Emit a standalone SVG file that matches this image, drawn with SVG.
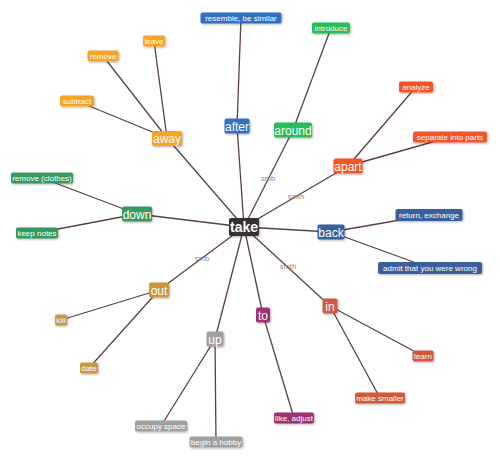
<svg xmlns="http://www.w3.org/2000/svg" width="500" height="460" viewBox="0 0 500 460">
<defs>
<filter id="sh" x="-20%" y="-30%" width="140%" height="170%">
<feDropShadow dx="1" dy="1" stdDeviation="0.8" flood-color="#000" flood-opacity="0.3"/>
</filter>
<style>
.e{stroke:#5b4040;stroke-width:1.3;fill:none}
.el{font-family:"Liberation Sans",Arial,sans-serif;font-size:7.5px;fill:#888;text-anchor:middle}
rect{filter:url(#sh)}
.m{font-family:"Liberation Sans",Arial,sans-serif;font-size:12px;fill:#fff;text-anchor:middle}
.l{font-family:"Liberation Sans",Arial,sans-serif;font-size:8px;fill:#fff;text-anchor:middle}
.hub{font-family:"Liberation Sans",Arial,sans-serif;font-size:14px;font-weight:bold;fill:#fff;text-anchor:middle}
.or{fill:#f7a428}.bl{fill:#3070c4}.gr{fill:#25bd5a}.rd{fill:#f5522a}.dg{fill:#349a5c}
.nv{fill:#3a5e98}.gd{fill:#c9983c}.gy{fill:#a0a0a0}.mg{fill:#9c3370}.br{fill:#d0583a}
</style>
</defs>
<rect x="0" y="0" width="500" height="460" fill="#fff" style="filter:none"/>
<g id="connectors">
<line class="e" x1="244" y1="227" x2="167" y2="138"/>
<line class="e" x1="244" y1="227" x2="237" y2="126"/>
<line class="e" x1="244" y1="227" x2="293" y2="130"/>
<line class="e" x1="244" y1="227" x2="348" y2="166"/>
<line class="e" x1="244" y1="227" x2="137" y2="214"/>
<line class="e" x1="244" y1="227" x2="331" y2="232"/>
<line class="e" x1="244" y1="227" x2="159" y2="290"/>
<line class="e" x1="244" y1="227" x2="215" y2="339"/>
<line class="e" x1="244" y1="227" x2="263" y2="315"/>
<line class="e" x1="244" y1="227" x2="330" y2="306"/>
<line class="e" x1="167" y1="138" x2="103" y2="56"/>
<line class="e" x1="167" y1="138" x2="154" y2="41"/>
<line class="e" x1="167" y1="138" x2="77" y2="101"/>
<line class="e" x1="237" y1="126" x2="241" y2="18"/>
<line class="e" x1="293" y1="130" x2="331" y2="28"/>
<line class="e" x1="348" y1="166" x2="416" y2="87"/>
<line class="e" x1="348" y1="166" x2="450" y2="137"/>
<line class="e" x1="137" y1="214" x2="42" y2="178"/>
<line class="e" x1="137" y1="214" x2="37" y2="233"/>
<line class="e" x1="331" y1="232" x2="429" y2="215"/>
<line class="e" x1="331" y1="232" x2="430" y2="268"/>
<line class="e" x1="159" y1="290" x2="61" y2="320"/>
<line class="e" x1="159" y1="290" x2="89" y2="368"/>
<line class="e" x1="215" y1="339" x2="161" y2="426"/>
<line class="e" x1="215" y1="339" x2="216" y2="442"/>
<line class="e" x1="263" y1="315" x2="294" y2="418"/>
<line class="e" x1="330" y1="306" x2="423" y2="356"/>
<line class="e" x1="330" y1="306" x2="380" y2="398"/>
<text class="el" x="268" y="181">smb</text>
<text class="el" x="296" y="199">smth</text>
<text class="el" x="202" y="261">smb</text>
<text class="el" x="288" y="269">smth</text>
</g>
<g id="take"><rect x="229" y="218" width="30" height="18" rx="2" fill="#333"/><text class="hub" x="244" y="232">take</text></g>
<g id="away"><rect x="152" y="131" width="30" height="15" rx="2" class="or"/><text class="m" x="167" y="143">away</text></g>
<g id="after"><rect x="224.5" y="118.5" width="25" height="15" rx="2" class="bl"/><text class="m" x="237" y="130.5">after</text></g>
<g id="around"><rect x="274" y="122.5" width="38" height="15" rx="2" class="gr"/><text class="m" x="293" y="134.5">around</text></g>
<g id="apart"><rect x="333.5" y="158.5" width="29" height="15" rx="2" class="rd"/><text class="m" x="348" y="170.5">apart</text></g>
<g id="down"><rect x="122" y="206.5" width="30" height="15" rx="2" class="dg"/><text class="m" x="137" y="218.5">down</text></g>
<g id="back"><rect x="317.5" y="224.5" width="27" height="15" rx="2" class="nv"/><text class="m" x="331" y="236.5">back</text></g>
<g id="out"><rect x="149" y="282.5" width="20" height="15" rx="2" class="gd"/><text class="m" x="159" y="294.5">out</text></g>
<g id="up"><rect x="206.5" y="331.5" width="17" height="15" rx="2" class="gy"/><text class="m" x="215" y="343.5">up</text></g>
<g id="to"><rect x="256" y="307.5" width="14" height="15" rx="2" class="mg"/><text class="m" x="263" y="319.5">to</text></g>
<g id="in"><rect x="322.5" y="298.5" width="15" height="15" rx="2" class="br"/><text class="m" x="330" y="310.5">in</text></g>
<g id="remove"><rect x="87.5" y="50.5" width="31" height="11" rx="2" class="or"/><text class="l" x="103" y="59">remove</text></g>
<g id="leave"><rect x="143" y="35.5" width="22" height="11" rx="2" class="or"/><text class="l" x="154" y="44">leave</text></g>
<g id="subtract"><rect x="60" y="95.5" width="34" height="11" rx="2" class="or"/><text class="l" x="77" y="104">subtract</text></g>
<g id="resemble"><rect x="200.5" y="12.5" width="81" height="11" rx="2" class="bl"/><text class="l" x="241" y="21">resemble, be similar</text></g>
<g id="introduce"><rect x="312" y="22.5" width="38" height="11" rx="2" class="gr"/><text class="l" x="331" y="31">introduce</text></g>
<g id="analyze"><rect x="399" y="81.5" width="34" height="11" rx="2" class="rd"/><text class="l" x="416" y="90">analyze</text></g>
<g id="separate"><rect x="413" y="131.5" width="74" height="11" rx="2" class="rd"/><text class="l" x="450" y="140">separate into parts</text></g>
<g id="remove-clothes"><rect x="11" y="172.5" width="62" height="11" rx="2" class="dg"/><text class="l" x="42" y="181">remove (clothes)</text></g>
<g id="keep-notes"><rect x="16" y="227.5" width="42" height="11" rx="2" class="dg"/><text class="l" x="37" y="236">keep notes</text></g>
<g id="return"><rect x="395.5" y="209" width="67" height="12" rx="2" class="nv"/><text class="l" x="429" y="218">return, exchange</text></g>
<g id="admit"><rect x="378" y="262" width="104" height="12" rx="2" class="nv"/><text class="l" x="430" y="271">admit that you were wrong</text></g>
<g id="kill"><rect x="55" y="314.5" width="12" height="11" rx="2" class="gd"/><text class="l" x="61" y="323">kill</text></g>
<g id="date"><rect x="80" y="362.5" width="18" height="11" rx="2" class="gd"/><text class="l" x="89" y="371">date</text></g>
<g id="occupy"><rect x="135" y="420.5" width="52" height="11" rx="2" class="gy"/><text class="l" x="161" y="429">occupy space</text></g>
<g id="begin"><rect x="189.5" y="436.5" width="53" height="11" rx="2" class="gy"/><text class="l" x="216" y="445">begin a hobby</text></g>
<g id="learn"><rect x="412.5" y="350.5" width="21" height="11" rx="2" class="br"/><text class="l" x="423" y="359">learn</text></g>
<g id="make-smaller"><rect x="355" y="392.5" width="50" height="11" rx="2" class="br"/><text class="l" x="380" y="401">make smaller</text></g>
<g id="like"><rect x="274" y="412.5" width="40" height="11" rx="2" class="mg"/><text class="l" x="294" y="421">like, adjust</text></g>
</svg>
